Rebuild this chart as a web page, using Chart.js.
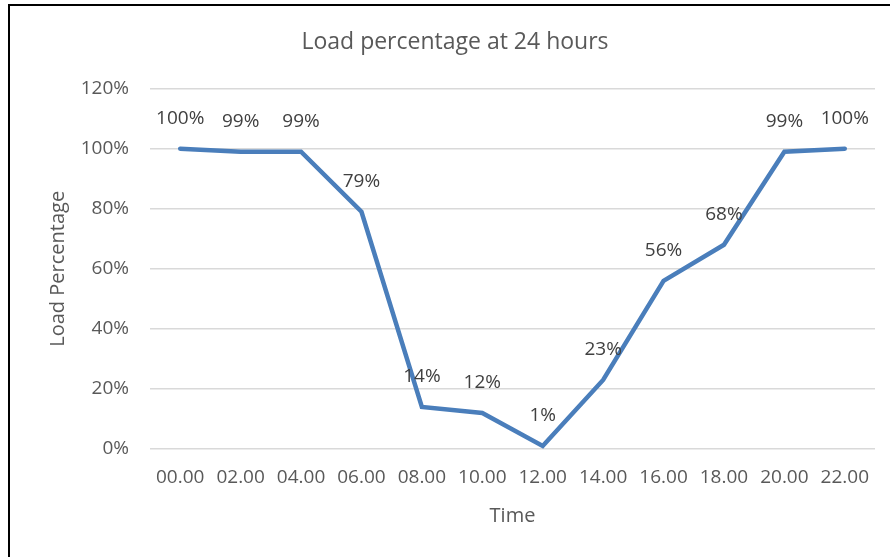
<!DOCTYPE html>
<html>
<head>
<meta charset="utf-8">
<script src="https://cdn.jsdelivr.net/npm/chart.js@4.4.0/dist/chart.umd.min.js"></script>
<style>
    html, body { margin: 0; padding: 0; background: #fff; }
    #wrap { position: relative; width: 890px; height: 557px; overflow: hidden; }
    #frame {
        position: absolute; left: 8px; top: 4px; width: 900px; height: 600px;
        border-left: 2px solid #000; border-top: 2px solid #000;
    }
    #chart { position: absolute; left: 0; top: 0; }
</style>
</head>
<body>
<div id="wrap">
    <div id="frame"></div>
    <canvas id="chart" width="890" height="557"></canvas>
</div>
<script>
// ─────────────────────────────────────────────
// Data
// ─────────────────────────────────────────────
const times = ['00.00', '02.00', '04.00', '06.00', '08.00', '10.00',
               '12.00', '14.00', '16.00', '18.00', '20.00', '22.00'];
const loadPct = [100, 99, 99, 79, 14, 12, 1, 23, 56, 68, 99, 100];
const yTicks = [0, 20, 40, 60, 80, 100, 120];

const FONT = "'Open Sans', 'Noto Sans', sans-serif";

// simple label plugin - writes value above each point
const pointLabels = {
    id: 'pointLabels',
    afterDatasetsDraw(chart) {
        const ctx = chart.ctx;
        const meta = chart.getDatasetMeta(0);
        ctx.save();
        ctx.font = '19px ' + FONT;
        ctx.fillStyle = '#404040';
        ctx.textAlign = 'center';
        ctx.textBaseline = 'middle';
        meta.data.forEach((pt, i) => {
            ctx.fillText(loadPct[i] + '%', pt.x, pt.y - 30);
        });
        ctx.restore();
    }
};

const ctx = document.getElementById('chart').getContext('2d');
new Chart(ctx, {
    type: 'line',
    data: {
        labels: times,
        datasets: [{
            label: 'Load Percentage',
            data: loadPct,
            borderColor: '#4a7ebb',
            borderWidth: 4.5,
            pointRadius: 0,
            tension: 0,
            fill: false,
            borderJoinStyle: 'miter',
            borderCapStyle: 'round'
        }]
    },
    options: {
        responsive: false,
        animation: false,
        layout: { padding: { left: 35, right: 15, top: 0, bottom: 0 } },
        plugins: {
            legend: { display: false },
            tooltip: { enabled: false },
            title: {
                display: true,
                text: 'Load percentage at 24 hours',
                color: '#595959',
                font: { family: FONT, size: 23, weight: 'normal', lineHeight: 1.2 },
                padding: { top: 29, bottom: 32 }
            }
        },
        scales: {
            x: {
                offset: true,
                grid: { display: false, drawTicks: false },
                border: { display: false },
                ticks: {
                    color: '#595959',
                    font: { family: FONT, size: 19 },
                    padding: 17,
                    maxRotation: 0,
                    autoSkip: false
                },
                title: {
                    display: true,
                    text: 'Time',
                    color: '#595959',
                    font: { family: FONT, size: 20 },
                    padding: { top: 0, bottom: 29 }
                },
                afterFit(scale) { scale.height = 108; }
            },
            y: {
                min: 0,
                max: 120,
                afterBuildTicks(scale) {
                    scale.ticks = yTicks.map(v => ({ value: v }));
                },
                grid: { color: '#d9d9d9', lineWidth: 1.5, drawTicks: false },
                border: { display: false },
                ticks: {
                    color: '#595959',
                    font: { family: FONT, size: 19 },
                    padding: 21,
                    callback: function(value) { return value + '%'; }
                },
                title: {
                    display: true,
                    text: 'Load Percentage',
                    color: '#595959',
                    font: { family: FONT, size: 20 },
                    padding: { top: 11, bottom: 0 }
                },
                afterFit(scale) { scale.width = 115; }
            }
        }
    },
    plugins: [pointLabels]
});
</script>
</body>
</html>
